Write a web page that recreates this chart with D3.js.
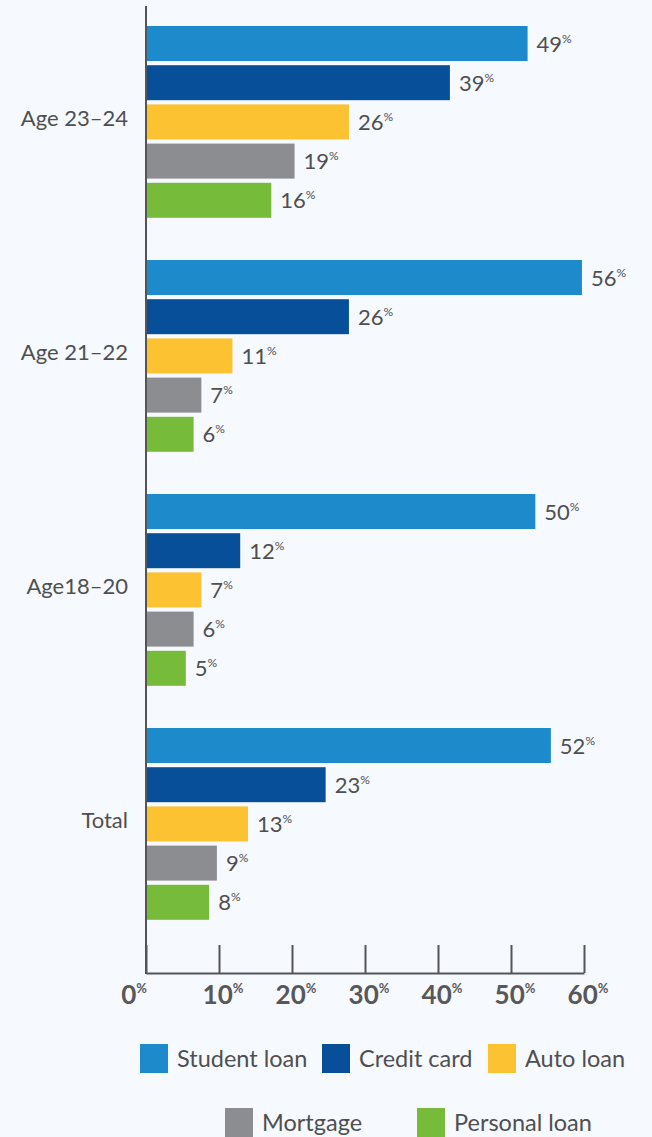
<!DOCTYPE html>
<html><head><meta charset="utf-8">
<script src="https://cdn.jsdelivr.net/npm/d3@7"></script>
<style>html,body{margin:0;padding:0;background:#f6f9fd;}svg{display:block;font-family:Lato,"Noto Sans",sans-serif;}</style>
</head><body>
<svg id="c" width="652" height="1137"></svg>
<script>
const categories = ["Age 23–24", "Age 21–22", "Age18–20", "Total"];
const seriesNames = ["Student loan", "Credit card", "Auto loan", "Mortgage", "Personal loan"];
const studentLoan = [49, 56, 50, 52];
const creditCard = [39, 26, 12, 23];
const autoLoan = [26, 11, 7, 13];
const mortgage = [19, 7, 6, 9];
const personalLoan = [16, 6, 5, 8];
const tickValues = [0, 10, 20, 30, 40, 50, 60];
const colors = ["#1c8acb", "#074f99", "#fcc232", "#8c8d90", "#77bb3a"];

const seriesValues = [studentLoan, creditCard, autoLoan, mortgage, personalLoan];
const svg = d3.select("#c");
const textColor = "#4f4f51";

// bars use their own scale (as in the original artwork), axis uses its own
const xBar = d3.scaleLinear().domain([0, 60]).range([147, 613]);
const xAxis = d3.scaleLinear().domain([0, 60]).range([146, 584]);
const yGroup = d3.scaleBand().domain(categories).range([26, 26 + 4 * 234]);
const yInner = d3.scaleBand().domain(seriesNames).range([0, 4 * 39.2 + 35]).paddingInner(4.2 / 39.2).paddingOuter(0);

const data = [];
categories.forEach((c, i) => seriesNames.forEach((s, j) => data.push({c, s, j, v: seriesValues[j][i]})));

const g = svg.append("g");
g.selectAll("rect.bar").data(data).join("rect")
  .attr("class", "bar")
  .attr("x", xBar(0))
  .attr("y", d => yGroup(d.c) + yInner(d.s))
  .attr("width", d => xBar(d.v) - xBar(0))
  .attr("height", yInner.bandwidth())
  .attr("fill", d => colors[d.j]);

const lbl = g.selectAll("text.val").data(data).join("text")
  .attr("class", "val")
  .attr("x", d => xBar(d.v) + 9)
  .attr("y", d => yGroup(d.c) + yInner(d.s) + yInner.bandwidth() / 2 + 8)
  .attr("fill", textColor)
  .attr("font-size", 22);
lbl.append("tspan").text(d => d.v);
lbl.append("tspan").attr("font-size", 12).attr("dy", -9).text("%");

// category labels
svg.selectAll("text.cat").data(categories).join("text")
  .attr("class", "cat")
  .attr("x", 128)
  .attr("y", d => yGroup(d) + (4 * 39.2 + 35) / 2 + 4)
  .attr("text-anchor", "end")
  .attr("fill", textColor)
  .attr("font-size", 22)
  .text(d => d);

// axes
svg.append("line").attr("x1", 146).attr("x2", 146).attr("y1", 6).attr("y2", 974)
  .attr("stroke", "#555558").attr("stroke-width", 2);
const ax = svg.append("g").attr("transform", "translate(0,973)")
  .call(d3.axisBottom(xAxis).tickValues(tickValues).tickSize(-28).tickSizeOuter(0).tickFormat(""));
ax.select(".domain").attr("stroke", "#555558").attr("stroke-width", 2);
ax.selectAll(".tick line").attr("stroke", "#555558").attr("stroke-width", 2);
const tl = svg.selectAll("text.tick").data(tickValues).join("text")
  .attr("class", "tick")
  .attr("x", d => xAxis(d) + (d === 0 ? -12 : 4))
  .attr("y", 1004)
  .attr("text-anchor", "middle")
  .attr("fill", "#58585a")
  .attr("font-weight", "bold")
  .attr("font-size", 26);
tl.append("tspan").text(d => d);
tl.append("tspan").attr("font-size", 13).attr("dy", -11).text("%");

// legend
const legendItems = [
  {s: "Student loan", x: 140, y: 1044},
  {s: "Credit card", x: 322, y: 1044},
  {s: "Auto loan", x: 488, y: 1044},
  {s: "Mortgage", x: 225, y: 1108},
  {s: "Personal loan", x: 417, y: 1108}
];
const lg = svg.selectAll("g.lg").data(legendItems).join("g").attr("class", "lg")
  .attr("transform", d => `translate(${d.x},${d.y})`);
lg.append("rect").attr("width", 28).attr("height", 29)
  .attr("fill", d => colors[seriesNames.indexOf(d.s)]);
lg.append("text").attr("x", 37).attr("y", 23).attr("font-size", 23.5)
  .attr("fill", textColor).text(d => d.s);
</script>
</body></html>
